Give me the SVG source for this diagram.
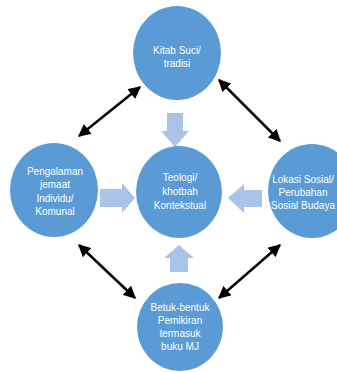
<svg xmlns="http://www.w3.org/2000/svg" width="337" height="372" viewBox="0 0 337 372">
<style>
.node{fill:#5b9bd5}
.lbl{fill:#ffffff;font-family:"Liberation Sans",Arial,sans-serif;font-size:10px;text-anchor:middle}
.blk{fill:#a9c4e6}
.dbl{stroke:#000;stroke-width:2.5;fill:none;marker-start:url(#ah);marker-end:url(#ah)}
</style>
<defs>
<marker id="ah" viewBox="0 0 10 10" refX="9" refY="5" markerWidth="5" markerHeight="5" orient="auto-start-reverse" markerUnits="strokeWidth">
<path d="M0,0 L10,5 L0,10 z" fill="#000"/>
</marker>
</defs>
<rect width="337" height="372" fill="#ffffff"/>
<g id="connectors">
<polygon class="blk" points="167,113 183,113 183,131 189,131 175,147 161,131 167,131"/>
<polygon class="blk" points="100,189 122,189 122,183 135,198 122,213 122,207 100,207"/>
<polygon class="blk" points="262,190 244,190 244,184 228,198 244,213 244,207 262,207"/>
<polygon class="blk" points="170,272 188,272 188,258 194,258 179,245 164,258 170,258"/>
<line class="dbl" x1="79" y1="136" x2="140" y2="87"/>
<line class="dbl" x1="219" y1="80" x2="280" y2="141"/>
<line class="dbl" x1="79" y1="245" x2="135" y2="298"/>
<line class="dbl" x1="280" y1="245" x2="219" y2="298"/>
</g>
<g id="top">
<ellipse class="node" cx="177" cy="53" rx="44" ry="47"/>
<text class="lbl" x="177" y="54">Kitab Suci/</text>
<text class="lbl" x="177" y="67">tradisi</text>
</g>
<g id="center">
<ellipse class="node" cx="179" cy="192" rx="43" ry="46"/>
<text class="lbl" x="180" y="181">Teologi/</text>
<text class="lbl" x="180" y="195">khotbah</text>
<text class="lbl" x="180" y="209">Kontekstual</text>
</g>
<g id="left">
<ellipse class="node" cx="54" cy="190" rx="44" ry="47"/>
<text class="lbl" x="55" y="175">Pengalaman</text>
<text class="lbl" x="55" y="188">jemaat</text>
<text class="lbl" x="55" y="202">Individu/</text>
<text class="lbl" x="55" y="215">Komunal</text>
</g>
<g id="right">
<ellipse class="node" cx="312" cy="191" rx="44" ry="47"/>
<text class="lbl" x="303" y="183">Lokasi Sosial/</text>
<text class="lbl" x="303" y="196">Perubahan</text>
<text class="lbl" x="303" y="209">Sosial Budaya</text>
</g>
<g id="bottom">
<ellipse class="node" cx="180" cy="327" rx="43" ry="44"/>
<text class="lbl" x="180" y="311">Betuk-bentuk</text>
<text class="lbl" x="180" y="324">Pemikiran</text>
<text class="lbl" x="180" y="337">termasuk</text>
<text class="lbl" x="180" y="350">buku MJ</text>
</g>
</svg>
